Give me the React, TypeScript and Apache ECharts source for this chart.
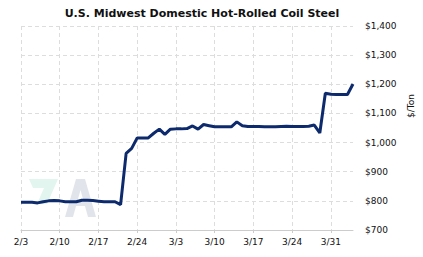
import React, { useEffect, useRef } from "react";
import * as echarts from "echarts";

const titleText = "U.S. Midwest Domestic Hot-Rolled Coil Steel";
const unitLabel = "$/Ton";

const dates = [
  "2/3", "2/4", "2/5", "2/6", "2/7", "2/8", "2/9",
  "2/10", "2/11", "2/12", "2/13", "2/14", "2/15", "2/16",
  "2/17", "2/18", "2/19", "2/20", "2/21", "2/22", "2/23",
  "2/24", "2/25", "2/26", "2/27", "2/28", "3/1", "3/2",
  "3/3", "3/4", "3/5", "3/6", "3/7", "3/8", "3/9",
  "3/10", "3/11", "3/12", "3/13", "3/14", "3/15", "3/16",
  "3/17", "3/18", "3/19", "3/20", "3/21", "3/22", "3/23",
  "3/24", "3/25", "3/26", "3/27", "3/28", "3/29", "3/30",
  "3/31", "4/1", "4/2", "4/3", "4/4",
];

const prices = [
  795, 795, 795, 793, 797, 800, 801,
  800, 797, 797, 797, 802, 802, 801,
  799, 797, 797, 797, 787, 963, 980,
  1016, 1016, 1016, 1032, 1046, 1028, 1046,
  1047, 1047, 1048, 1057, 1046, 1062, 1058,
  1054, 1054, 1054, 1054, 1071, 1058, 1055,
  1055, 1055, 1054, 1054, 1054, 1055, 1056,
  1055, 1055, 1055, 1056, 1060, 1033, 1169,
  1166, 1165, 1165, 1165, 1201,
];

const yMin = 700;
const yMax = 1400;
const yStep = 100;

const fmtDollar = (v: number) =>
  "$" + String(v).replace(/\B(?=(\d{3})+(?!\d))/g, ",");

export default function App() {
  const ref = useRef<HTMLDivElement>(null);

  useEffect(() => {
    if (!ref.current) return;
    const chart = echarts.init(ref.current, undefined, { renderer: "svg" });
    const font = "'DejaVu Sans', Verdana, sans-serif";
    chart.setOption({
      animation: false,
      backgroundColor: "#ffffff",
      grid: { left: 21, right: 70, top: 26, bottom: 27, containLabel: false },
      xAxis: {
        type: "category",
        data: dates,
        boundaryGap: false,
        axisLine: { show: true, lineStyle: { color: "#cccccc", width: 1 } },
        axisTick: { show: true, interval: 6, length: 3, lineStyle: { color: "#cccccc" } },
        axisLabel: {
          interval: 6,
          color: "#111111",
          fontFamily: font,
          fontSize: 9,
          margin: 7,
        },
        splitLine: {
          show: true,
          interval: 6,
          lineStyle: { color: "#dddddd", type: [4, 3], width: 1 },
        },
      },
      yAxis: {
        type: "value",
        position: "right",
        min: yMin,
        max: yMax,
        interval: yStep,
        axisLine: { show: false },
        axisTick: { show: false },
        axisLabel: {
          color: "#111111",
          fontFamily: font,
          fontSize: 9,
          margin: 12,
          formatter: (v: number) => fmtDollar(v),
        },
        splitLine: {
          show: true,
          lineStyle: { color: "#dddddd", type: [4, 3], width: 1 },
        },
      },
      graphic: [
        {
          type: "text",
          x: 202,
          y: 13,
          style: {
            text: titleText,
            fill: "#111111",
            font: "bold 11px 'DejaVu Sans', sans-serif",
            textAlign: "center",
            textVerticalAlign: "middle",
          },
        },
        {
          type: "text",
          x: 411,
          y: 106,
          rotation: Math.PI / 2,
          style: {
            text: unitLabel,
            fill: "#111111",
            font: "9px 'DejaVu Sans', sans-serif",
            textAlign: "center",
            textVerticalAlign: "middle",
          },
        },
        {
          type: "polygon",
          z: -1,
          shape: {
            points: [
              [29, 179], [58, 179], [47, 204], [37, 204], [44, 188], [33, 188],
            ],
          },
          style: { fill: "#e2f5ee" },
        },
        {
          type: "polygon",
          z: -1,
          shape: {
            points: [
              [65, 217], [76, 179], [85, 179], [96, 217], [88, 217], [80.5, 190], [73, 217],
            ],
          },
          style: { fill: "#e1e4ea" },
        },
        {
          type: "rect",
          z: -1,
          shape: { x: 72, y: 200, width: 18, height: 6 },
          style: { fill: "#e1e4ea" },
        },
      ],
      series: [
        {
          type: "line",
          data: prices,
          showSymbol: false,
          symbol: "none",
          lineStyle: { color: "#0d2a6c", width: 3 },
          z: 5,
        },
      ],
    });
    return () => chart.dispose();
  }, []);

  return (
    <div
      ref={ref}
      style={{ position: "fixed", left: 0, top: 0, width: 423, height: 257 }}
    />
  );
}
